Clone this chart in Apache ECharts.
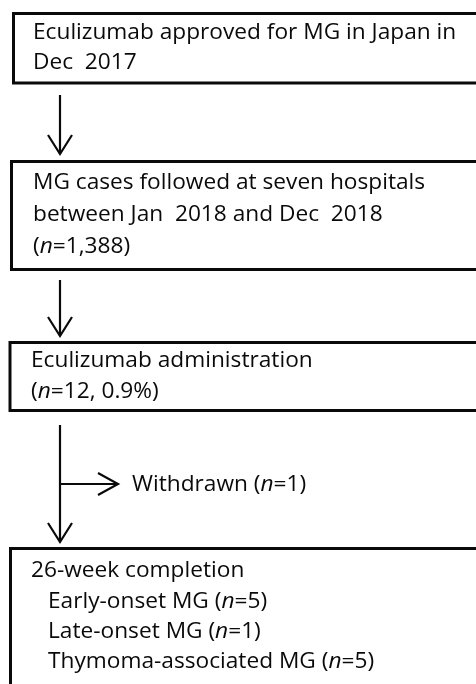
<!DOCTYPE html>
<html>
<head>
<meta charset="utf-8">
<script src="https://cdn.jsdelivr.net/npm/echarts@6/dist/echarts.min.js"></script>
<style>html,body{margin:0;padding:0;background:#fff;}#c{width:476px;height:684px;}</style>
</head>
<body>
<div id="c"></div>
<script>
// ---- data ----
const approvalLines = ['Eculizumab approved for MG in Japan in', 'Dec  2017'];
const cohortLines = ['MG cases followed at seven hospitals', 'between Jan  2018 and Dec  2018'];
const cohortN = '1,388';
const treatedLabel = 'Eculizumab administration';
const treatedN = 12;
const treatedPct = '0.9%';
const withdrawnLabel = 'Withdrawn';
const withdrawnN = 1;
const completionTitle = '26-week completion';
const subgroupNames = ['Early-onset MG', 'Late-onset MG', 'Thymoma-associated MG'];
const subgroupN = [5, 1, 5];

// ---- styles / layout ----
const FONT = 'Open Sans';
const FS = 21;
const SX = 1.08;
const INK = '#0a0a0a';
const rich = {
  a: { fontFamily: FONT, fontSize: FS, fill: INK, color: INK },
  i: { fontFamily: FONT, fontSize: FS, fontStyle: 'italic', fill: INK, color: INK }
};
function txt(x, y, s) {
  return { type: 'text', x: x, y: y, scaleX: SX, style: { text: s, rich: rich, fontFamily: FONT, fontSize: FS, fill: INK, verticalAlign: 'middle', align: 'left' } };
}
function nStr(prefix, n, suffix) {
  return '{a|' + prefix + '(}{i|n}{a|=' + n + (suffix || '') + ')}';
}
function box(x, y, y2) {
  return { type: 'rect', shape: { x: x, y: y, width: 490 - x, height: y2 - y }, style: { fill: 'none', stroke: INK, lineWidth: 3 } };
}
function line(x1, y1, x2, y2) {
  return { type: 'line', shape: { x1: x1, y1: y1, x2: x2, y2: y2 }, style: { stroke: INK, lineWidth: 2.2 } };
}
function vArrow(x, y1, y2) {
  return [line(x, y1, x, y2),
    { type: 'polyline', shape: { points: [[x - 12, y2 - 19], [x, y2], [x + 12, y2 - 19]] }, style: { fill: 'none', stroke: INK, lineWidth: 2.2 } }];
}
function hArrow(y, x1, x2) {
  return [line(x1, y, x2, y),
    { type: 'polyline', shape: { points: [[x2 - 20, y - 11], [x2, y], [x2 - 20, y + 11]] }, style: { fill: 'none', stroke: INK, lineWidth: 2.2 } }];
}

const AX = 60;
const els = [];
els.push(box(13.5, 13.5, 83));
approvalLines.forEach((s, k) => els.push(txt(33, 33 + k * 30, '{a|' + s + '}')));
els.push(...vArrow(AX, 95, 154));
els.push(box(11.5, 161.5, 269.5));
cohortLines.forEach((s, k) => els.push(txt(33, 183 + k * 32, '{a|' + s + '}')));
els.push(txt(33, 247, nStr('', cohortN)));
els.push(...vArrow(AX, 280, 336));
els.push(box(10, 342.5, 410.5));
els.push(txt(31, 361, '{a|' + treatedLabel + '}'));
els.push(txt(31, 392, '{a|(}{i|n}{a|=' + treatedN + ', ' + treatedPct + ')}'));
els.push(...vArrow(AX, 425, 542));
els.push(...hArrow(484, AX, 118));
els.push(txt(132, 485, '{a|' + withdrawnLabel + ' (}{i|n}{a|=' + withdrawnN + ')}'));
els.push(box(10.5, 548.5, 700));
els.push(txt(31, 571, '{a|' + completionTitle + '}'));
subgroupNames.forEach((s, k) => els.push(txt(48, 602 + k * 30, '{a|' + s + ' (}{i|n}{a|=' + subgroupN[k] + ')}')));

const chart = echarts.init(document.getElementById('c'), null, { renderer: 'canvas' });
chart.setOption({ backgroundColor: '#fff', animation: false, graphic: { elements: els } });
</script>
</body>
</html>
